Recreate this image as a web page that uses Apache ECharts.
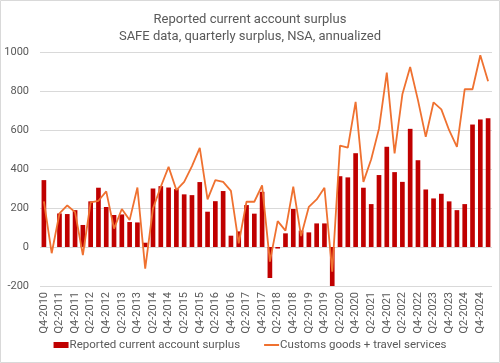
<!DOCTYPE html>
<html><head><meta charset="utf-8">
<script src="https://cdn.jsdelivr.net/npm/echarts@6/dist/echarts.min.js"></script>
<style>html,body{margin:0;padding:0;background:#fff}#c{width:500px;height:363px}</style>
</head><body><div id="c"></div>
<script>
function buildQuarters(){var out=[];var y=2010,q=4;for(var i=0;i<58;i++){out.push('Q'+q+'-'+y);q++;if(q>4){q=1;y++;}}return out;}
var categories = buildQuarters();
var reported = [343,0,172,169,189,113,234,304,205,164,167,128,126,22,
  300,312,305,297,270,266,333,181,235,287,58,80,215,171,
  283,-159,-8,70,195,84,75,121,121,-203,363,357,481,304,
  220,369,514,384,334,606,445,295,249,273,234,189,220,628,654,660];
var customs = [234,-32,172,213,179,-41,229,237,285,94,195,138,305,-111,
  198,309,411,292,334,415,508,244,343,334,288,19,232,232,
  316,-75,133,84,309,56,206,244,304,-126,520,510,744,334,
  450,607,894,480,783,923,753,565,742,706,599,514,809,809,983,850];
var yTicks = {min:-200,max:1000,interval:200};
var chart = echarts.init(document.getElementById('c'));
var font = 'Roboto';
chart.setOption({
  animation:false,
  textStyle:{fontFamily:font},
  title:{text:'Reported current account surplus\nSAFE data, quarterly surplus, NSA, annualized',
    left:'center',top:6,textStyle:{fontSize:13,fontWeight:'normal',color:'#595959',lineHeight:17,fontFamily:font}},
  graphic:[{type:'rect',shape:{x:0.5,y:0.5,width:499,height:362},style:{fill:'none',stroke:'#d9d9d9',lineWidth:1},silent:true}],
  grid:{left:40,right:8,top:52,bottom:77,containLabel:false},
  legend:{bottom:7,left:'center',itemGap:24,itemWidth:15,itemHeight:6,
    textStyle:{fontSize:11.5,color:'#595959',fontFamily:font,padding:[0,0,0,-4]},
    data:[{name:'Reported current account surplus',icon:'rect'},
          {name:'Customs goods + travel services',icon:'path://M0,0 L15,0 L15,2 L0,2 Z'}]},
  xAxis:{type:'category',data:categories,boundaryGap:true,
    axisLine:{show:false,onZero:false},axisTick:{show:false},
    axisLabel:{interval:1,rotate:90,fontSize:11,color:'#595959',margin:6}},
  yAxis:{type:'value',min:yTicks.min,max:yTicks.max,interval:yTicks.interval,
    axisLine:{show:false},axisTick:{show:false},
    axisLabel:{fontSize:11,color:'#595959',margin:11,formatter:function(v){return String(v);}},
    splitLine:{lineStyle:{color:'#d9d9d9',width:1}}},
  series:[
    {name:'Reported current account surplus',type:'bar',data:reported,barWidth:'60%',
      itemStyle:{color:'#c00000'}},
    {name:'Customs goods + travel services',type:'line',data:customs,symbol:'none',
      lineStyle:{color:'#ef7130',width:1.8},itemStyle:{color:'#ef7130'}}
  ]
});
</script></body></html>
